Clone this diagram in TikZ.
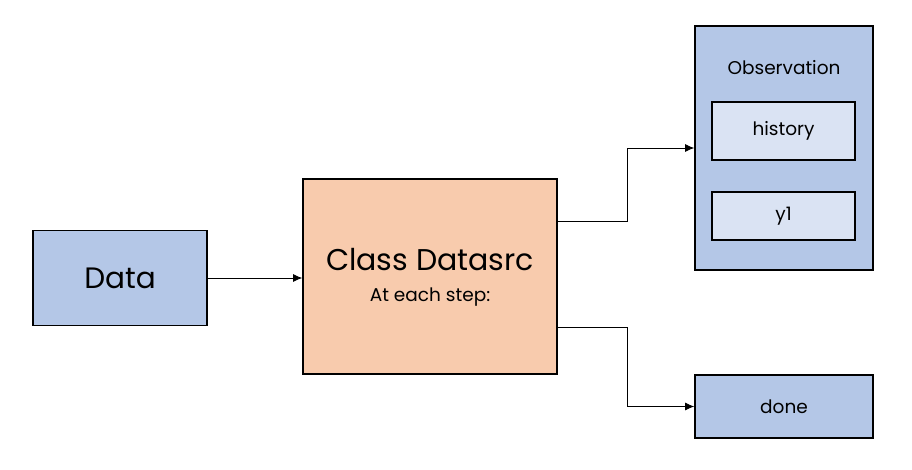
\documentclass[tikz,border=0pt]{standalone}
\usepackage{fontspec}
\setmainfont{Poppins}
\usetikzlibrary{arrows.meta}
\definecolor{boxblue}{HTML}{B4C7E7}
\definecolor{lightblue}{HTML}{DAE3F3}
\definecolor{boxorange}{HTML}{F8CBAD}

\begin{document}
\begin{tikzpicture}[x=1pt,y=-1pt,
  box/.style={draw,line width=1.6pt,inner sep=0pt},
  small/.style={font=\fontsize{18.5}{20}\selectfont},
  arr/.style={-{Latex[length=9pt,width=8pt]},line width=0.8pt}]

\useasboundingbox (0,0) rectangle (912,470);
%左边的数据框
\node[box,fill=boxblue,minimum width=174pt,minimum height=95pt,
  font=\fontsize{29.5}{30}\selectfont] (data) at (120,278) {Data};
%中间的类框
\node[box,fill=boxorange,minimum width=254pt,minimum height=195pt] (datasrc) at (430,276.5) {};
\node[font=\fontsize{30}{32}\selectfont] (title) at (430,260) {Class Datasrc};
\node[small] (step) at (430,297) {At each step:};

%右上的观测框和两个子框
\node[box,fill=boxblue,minimum width=178pt,minimum height=244pt] (obs) at (784,148) {};
\node[small] (obstitle) at (784,68) {Observation};
\node[box,fill=lightblue,minimum width=143pt,minimum height=58pt,small] (history) at (783.5,131) {history};
\node[box,fill=lightblue,minimum width=143pt,minimum height=48pt,small] (y1) at (783.5,216) {y1};
%右下的done框
\node[box,fill=boxblue,minimum width=178pt,minimum height=63pt,small] (done) at (784,406.5) {done};

%连线
\draw[arr] (data.east) -- (data.east -| datasrc.west);
\draw[arr] ([yshift=55.5pt]datasrc.east) -- ++(70,0) |- (obs.west);
\draw[arr] ([yshift=-50.5pt]datasrc.east) -- ++(70,0) |- (done.west);

\end{tikzpicture}
\end{document}
